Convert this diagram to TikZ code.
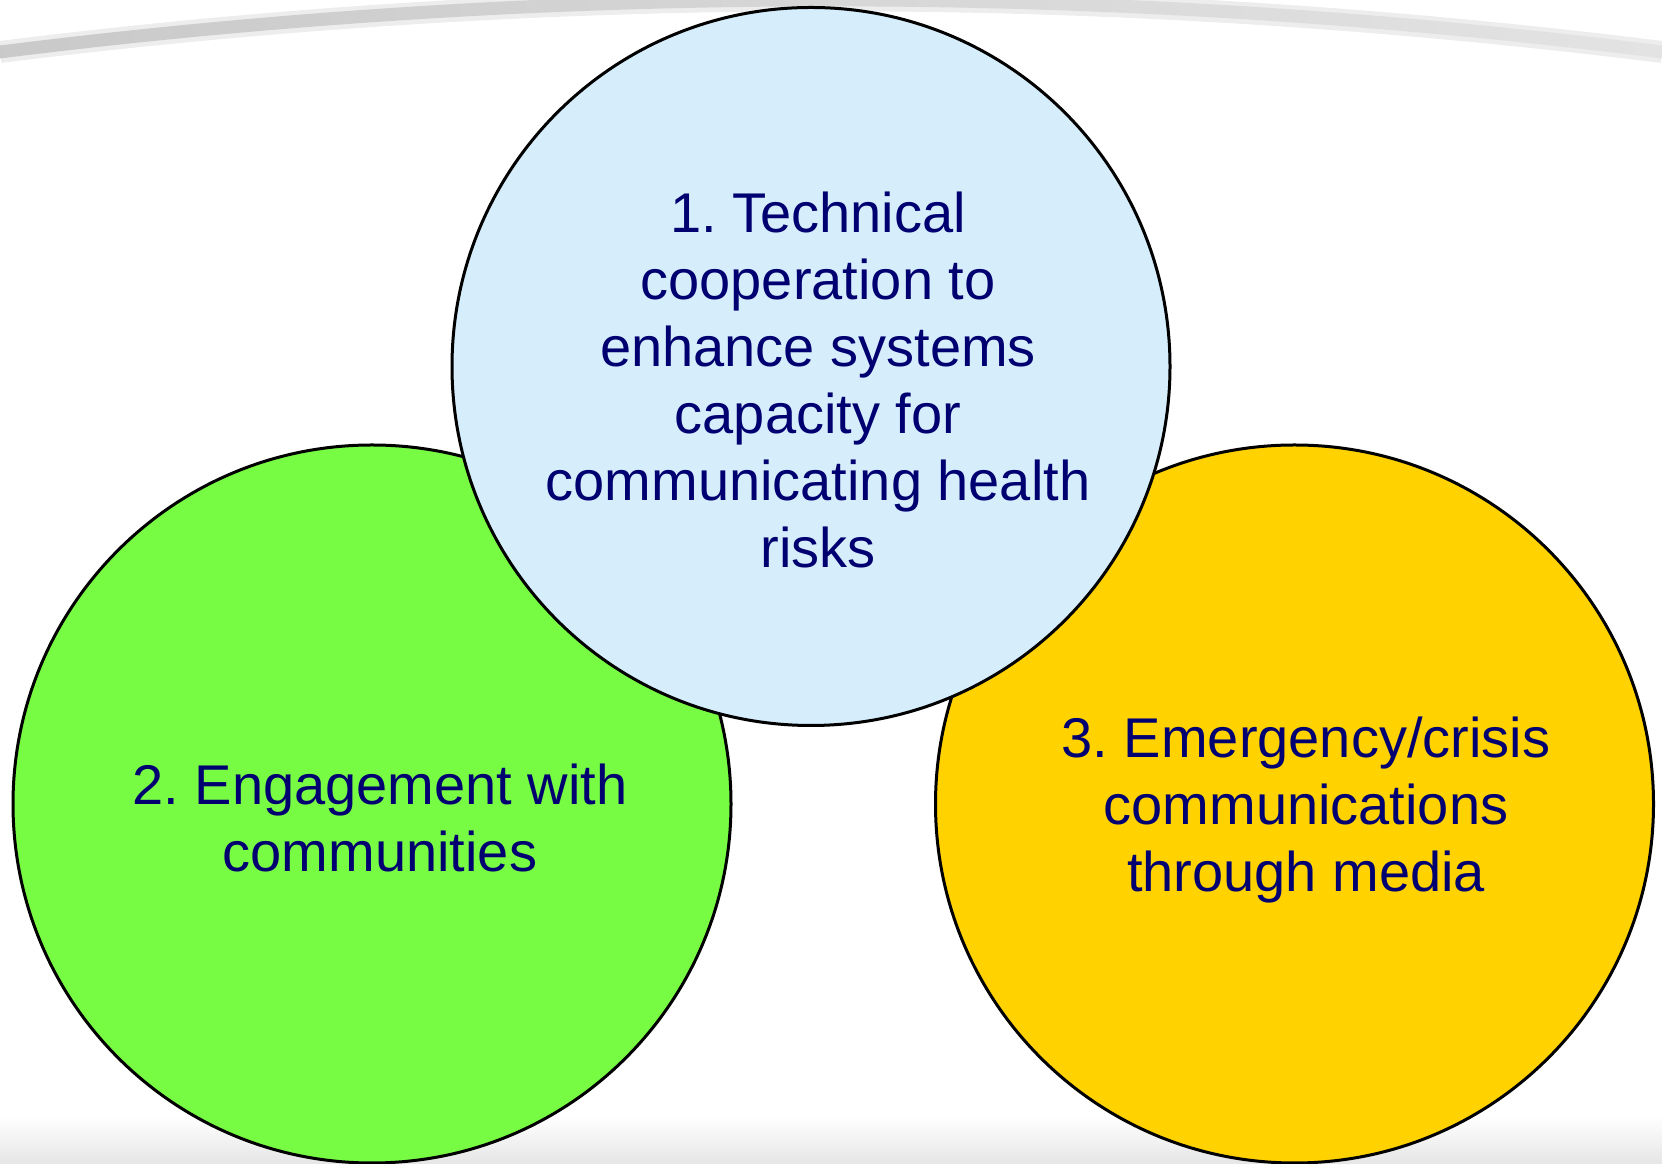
\documentclass[tikz,border=0pt]{standalone}
\usepackage{fontspec}
\setmainfont{Liberation Sans}
\frenchspacing
\begin{document}
\definecolor{bubbleblue}{HTML}{D6EEFC}
\definecolor{bubblegreen}{HTML}{77FC43}
\definecolor{bubbleyellow}{HTML}{FFD200}
\definecolor{labelnavy}{HTML}{000070}
\begin{tikzpicture}[x=1pt,y=1pt,
  bubble/.style={circle,draw=black,line width=3pt,minimum size=718pt,inner sep=0pt},
  label/.style={text=labelnavy,align=center,inner sep=0pt,font=\fontsize{56}{67}\selectfont}]
\useasboundingbox (0,0) rectangle (1662,1164);
% soft floor at the bottom edge
\shade[top color=white,bottom color=black!10] (0,0) rectangle (1662,48);
% faint grey sweep across the top, with a soft halo
\draw[black!7,line width=22pt] (0,1112) .. controls (554,1181) and (1108,1181) .. (1662,1112);
\shade[left color=black!21,right color=black!11]
  (0,1118.5) .. controls (554,1188) and (1108,1188) .. (1662,1118.5)
  -- (1662,1105.5) .. controls (1108,1175) and (554,1175) .. (0,1105.5) -- cycle;
% the three bubbles
\node[bubble,fill=bubblegreen] (green) at (372,360) {};
\node[bubble,fill=bubbleyellow] (yellow) at (1294.5,360) {};
\node[bubble,fill=bubbleblue] (blue) at (811,797.5) {};
% their texts
\node[label] (t1) at (818,784) {1. Technical\\cooperation to\\enhance systems\\capacity for\\communicating health\\risks};
\node[label] (t2) at (380,346) {2. Engagement with\\communities};
\node[label] (t3) at (1306,354) {3. Emergency/crisis\\communications\\through media};
\end{tikzpicture}
\end{document}
